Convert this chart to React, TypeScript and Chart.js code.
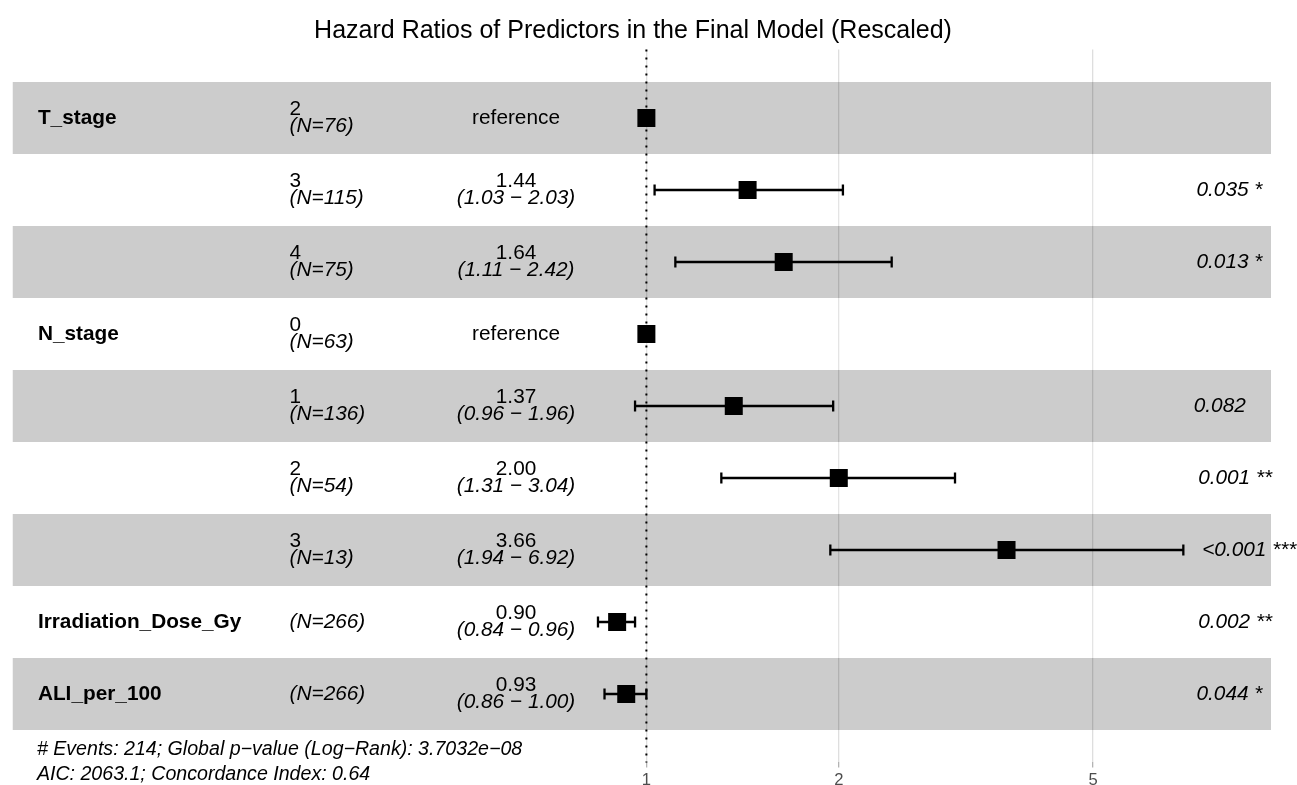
import React, { useEffect, useRef } from "react";
import { Chart, registerables } from "chart.js";

Chart.register(...registerables);

const FONT = '"Liberation Sans", Arial, Helvetica, sans-serif';
const TEXT_PX = 20.8;
const FOOTER_PX = 19.6;

const chartTitle = "Hazard Ratios of Predictors in the Final Model (Rescaled)";
const variables = ["T_stage", "", "", "N_stage", "", "", "", "Irradiation_Dose_Gy", "ALI_per_100"];
const levels = ["2", "3", "4", "0", "1", "2", "3", "", ""];
const counts = [76, 115, 75, 63, 136, 54, 13, 266, 266];
const hazardRatios = [1, 1.44, 1.64, 1, 1.37, 2.0, 3.66, 0.9, 0.93];
const ciLower: (number | null)[] = [null, 1.03, 1.11, null, 0.96, 1.31, 1.94, 0.84, 0.86];
const ciUpper: (number | null)[] = [null, 2.03, 2.42, null, 1.96, 3.04, 6.92, 0.96, 1.0];
const pLabels = ["", "0.035 *", "0.013 *", "", "0.082", "0.001 **", "<0.001 ***", "0.002 **", "0.044 *"];
const xTicks = [1, 2, 5];
const footerLines = [
  "# Events: 214; Global p\u2212value (Log\u2212Rank): 3.7032e\u221208",
  "AIC: 2063.1; Concordance Index: 0.64",
];

const forestPlugin = {
  id: "forestPlugin",
  beforeDatasetsDraw(chart: any) {
    const { ctx, chartArea: a, scales } = chart;
    const ys = scales.y;
    ctx.save();
    // alternating row bands (translucent, as in ggforest)
    hazardRatios.forEach((_, i) => {
      const top = ys.getPixelForValue(i + 0.5);
      const bot = ys.getPixelForValue(i + 1.5);
      ctx.fillStyle = i % 2 === 0 ? "rgba(0,0,0,0.2)" : "rgba(255,255,255,0.2)";
      ctx.fillRect(a.left, top, a.right - a.left, bot - top);
    });
    ctx.restore();
  },
  afterDatasetsDraw(chart: any) {
    const { ctx, chartArea: a, scales } = chart;
    const xs = scales.x;
    const ys = scales.y;
    ctx.save();
    // confidence intervals
    ctx.strokeStyle = "#000";
    ctx.lineWidth = 2.3;
    ciLower.forEach((lo, i) => {
      const hi = ciUpper[i];
      if (lo == null || hi == null) return;
      const y = ys.getPixelForValue(i + 1);
      const half = (ys.getPixelForValue(i + 1.15) - ys.getPixelForValue(i + 1)) / 2;
      const xl = xs.getPixelForValue(lo);
      const xh = xs.getPixelForValue(hi);
      ctx.beginPath();
      ctx.moveTo(xl, y);
      ctx.lineTo(xh, y);
      ctx.moveTo(xl, y - half);
      ctx.lineTo(xl, y + half);
      ctx.moveTo(xh, y - half);
      ctx.lineTo(xh, y + half);
      ctx.stroke();
    });
    // reference line at HR = 1
    const x1 = xs.getPixelForValue(1);
    ctx.lineWidth = 2;
    ctx.setLineDash([2, 6]);
    ctx.beginPath();
    ctx.moveTo(x1, a.top);
    ctx.lineTo(x1, a.bottom);
    ctx.stroke();
    ctx.setLineDash([]);

    // text columns
    const w = a.right - a.left;
    const xVar = a.left + 0.02 * w;
    const xLevel = a.left + 0.22 * w;
    const xCi = a.left + 0.4 * w;
    const upperMax = Math.max(...(ciUpper.filter((v) => v != null) as number[]));
    const xStars = xs.getPixelForValue(upperMax);
    ctx.fillStyle = "#000";
    ctx.textBaseline = "middle";
    hazardRatios.forEach((hr, i) => {
      const c = ys.getPixelForValue(i + 1);
      if (variables[i]) {
        ctx.font = `bold ${TEXT_PX}px ${FONT}`;
        ctx.textAlign = "left";
        ctx.fillText(variables[i], xVar, c);
      }
      ctx.textAlign = "left";
      const nText = `(N=${counts[i]})`;
      if (levels[i]) {
        ctx.font = `${TEXT_PX}px ${FONT}`;
        ctx.fillText(levels[i], xLevel, c - 9);
        ctx.font = `italic ${TEXT_PX}px ${FONT}`;
        ctx.fillText(nText, xLevel, c + 8);
      } else {
        ctx.font = `italic ${TEXT_PX}px ${FONT}`;
        ctx.fillText(nText, xLevel, c);
      }
      ctx.textAlign = "center";
      const lo = ciLower[i];
      const hi = ciUpper[i];
      if (lo == null || hi == null) {
        ctx.font = `${TEXT_PX}px ${FONT}`;
        ctx.fillText("reference", xCi, c);
      } else {
        ctx.font = `${TEXT_PX}px ${FONT}`;
        ctx.fillText(hr.toFixed(2), xCi, c - 9);
        ctx.font = `italic ${TEXT_PX}px ${FONT}`;
        ctx.fillText(`(${lo.toFixed(2)} \u2212 ${hi.toFixed(2)})`, xCi, c + 8);
      }
      if (pLabels[i]) {
        ctx.textAlign = "left";
        ctx.font = `italic ${TEXT_PX}px ${FONT}`;
        const tw = ctx.measureText(pLabels[i]).width;
        ctx.fillText(pLabels[i], xStars + 0.2 * tw, c);
      }
    });
    // footer annotation under the last band
    const bandBottom = ys.getPixelForValue(hazardRatios.length + 0.5);
    ctx.textAlign = "left";
    ctx.font = `italic ${FOOTER_PX}px ${FONT}`;
    ctx.fillStyle = "#000";
    footerLines.forEach((line, k) => {
      ctx.fillText(line, xVar - 1, bandBottom + 20 + k * 24.5);
    });
    ctx.restore();
  },
  afterDraw(chart: any) {
    const { ctx } = chart;
    ctx.save();
    ctx.fillStyle = "#000";
    ctx.font = `25px ${FONT}`;
    ctx.textAlign = "center";
    ctx.textBaseline = "middle";
    ctx.fillText(chartTitle, 633, 31);
    ctx.restore();
  },
};

export default function App() {
  const ref = useRef<HTMLCanvasElement | null>(null);
  useEffect(() => {
    if (!ref.current) return;
    const chart = new Chart(ref.current, {
      type: "scatter",
      data: {
        datasets: [
          {
            label: "HR",
            data: hazardRatios.map((v, i) => ({ x: v, y: i + 1 })),
            pointStyle: "rect",
            pointRadius: 12.73,
            pointHoverRadius: 12.73,
            backgroundColor: "#000",
            borderWidth: 0,
          },
        ],
      },
      options: {
        animation: false,
        responsive: true,
        maintainAspectRatio: false,
        devicePixelRatio: 1,
        events: [],
        layout: { padding: { left: 12, right: 26, top: 49.6, bottom: 0 } },
        plugins: {
          legend: { display: false },
          tooltip: { enabled: false },
          title: { display: false },
        },
        scales: {
          x: {
            type: "logarithmic",
            min: 0.102,
            max: 9.49,
            afterBuildTicks: (s: any) => {
              s.ticks = xTicks.map((v) => ({ value: v }));
            },
            afterFit: (s: any) => {
              s.height = 22.6;
            },
            ticks: {
              autoSkip: false,
              maxRotation: 0,
              padding: 2.6,
              color: "#4D4D4D",
              font: { family: FONT, size: 16.6 },
              callback: (v: any) => String(v),
            },
            grid: {
              color: "#DEDEDE",
              lineWidth: 1.3,
              drawTicks: true,
              tickLength: 5.2,
              tickColor: "#B3B3B3",
              tickWidth: 1.3,
            },
            border: { display: false },
          },
          y: {
            type: "linear",
            display: false,
            reverse: true,
            min: 0.05,
            max: 9.95,
          },
        },
      },
      plugins: [forestPlugin],
    } as any);
    return () => chart.destroy();
  }, []);
  return (
    <div style={{ position: "fixed", left: 0, top: 0, width: 1297, height: 785, background: "#fff" }}>
      <canvas ref={ref} />
    </div>
  );
}
